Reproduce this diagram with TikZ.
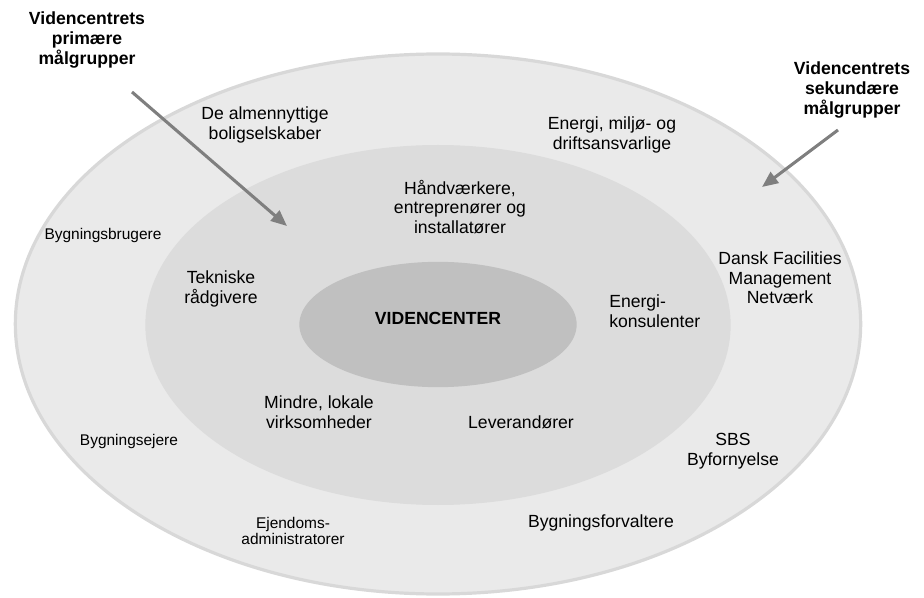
\documentclass[tikz,border=0pt]{standalone}
\usepackage{fontspec}
\setmainfont{Liberation Sans}
\usetikzlibrary{shapes.geometric,arrows.meta}
\definecolor{outerfill}{HTML}{EAEAEA}
\definecolor{outerline}{HTML}{D8D8D8}
\definecolor{midfill}{HTML}{DCDCDC}
\definecolor{innerfill}{HTML}{C0C0C0}
\definecolor{arrowgray}{HTML}{7F7F7F}
\tikzset{
  ring/.style={ellipse, inner sep=0pt, outer sep=0pt},
  lbl/.style={inner sep=0pt, align=center, font=\fontsize{13.2}{14.6}\selectfont},
  lblsmall/.style={inner sep=0pt, align=center, font=\fontsize{11.6}{12.2}\selectfont},
  hdr/.style={inner sep=0pt, align=center, font=\fontsize{13.2}{15}\selectfont\bfseries},
  pointer/.style={draw=arrowgray, line width=2.3pt, -{Triangle[length=12pt,width=10pt]}}
}
\begin{document}
\begin{tikzpicture}[x=0.75pt,y=-0.75pt]
\useasboundingbox (0,0) rectangle (924,598);
% rings
\node[ring, fill=outerfill, draw=outerline, line width=2.4pt, minimum width=634pt, minimum height=405pt] (outer) at (438,324) {};
\node[ring, fill=midfill, minimum width=439pt, minimum height=270pt] (middle) at (438,325) {};
\node[ring, fill=innerfill, minimum width=208pt, minimum height=94pt] (inner) at (438,324.5) {};
\node[hdr] (vc) at (438,318) {VIDENCENTER};
% headers
\node[hdr] (prim) at (87,40) {Videncentrets\\primære\\målgrupper};
\node[hdr] (sek) at (852,90) {Videncentrets\\sekundære\\målgrupper};
\coordinate (p1s) at (132,92);
\coordinate (p1e) at (287,226);
\coordinate (p2s) at (838,130);
\coordinate (p2e) at (762,187);
\draw[pointer] (p1s) -- (p1e);
\draw[pointer] (p2s) -- (p2e);
% outer ring labels
\node[lbl] (alm) at (265,125) {De almennyttige\\boligselskaber};
\node[lbl] (ene) at (612,135) {Energi, miljø- og\\driftsansvarlige};
\node[lblsmall] (bbr) at (103,236) {Bygningsbrugere};
\node[lbl] (dfm) at (780,278) {Dansk Facilities\\Management\\Netværk};
\node[lblsmall] (bej) at (129,441) {Bygningsejere};
\node[lbl] (sbs) at (733,451) {SBS\\Byfornyelse};
\node[lblsmall] (eja) at (293,531) {Ejendoms-\\administratorer};
\node[lbl] (bfv) at (601,523) {Bygningsforvaltere};
% middle ring labels
\node[lbl] (haa) at (460,207) {Håndværkere,\\entreprenører og\\installatører};
\node[lbl] (tek) at (221,289) {Tekniske\\rådgivere};
\node[lbl, align=left, anchor=west] (enk) at (609,311) {Energi-\\konsulenter};
\node[lbl] (min) at (319,412) {Mindre, lokale\\virksomheder};
\node[lbl] (lev) at (521,422) {Leverandører};
\end{tikzpicture}
\end{document}
